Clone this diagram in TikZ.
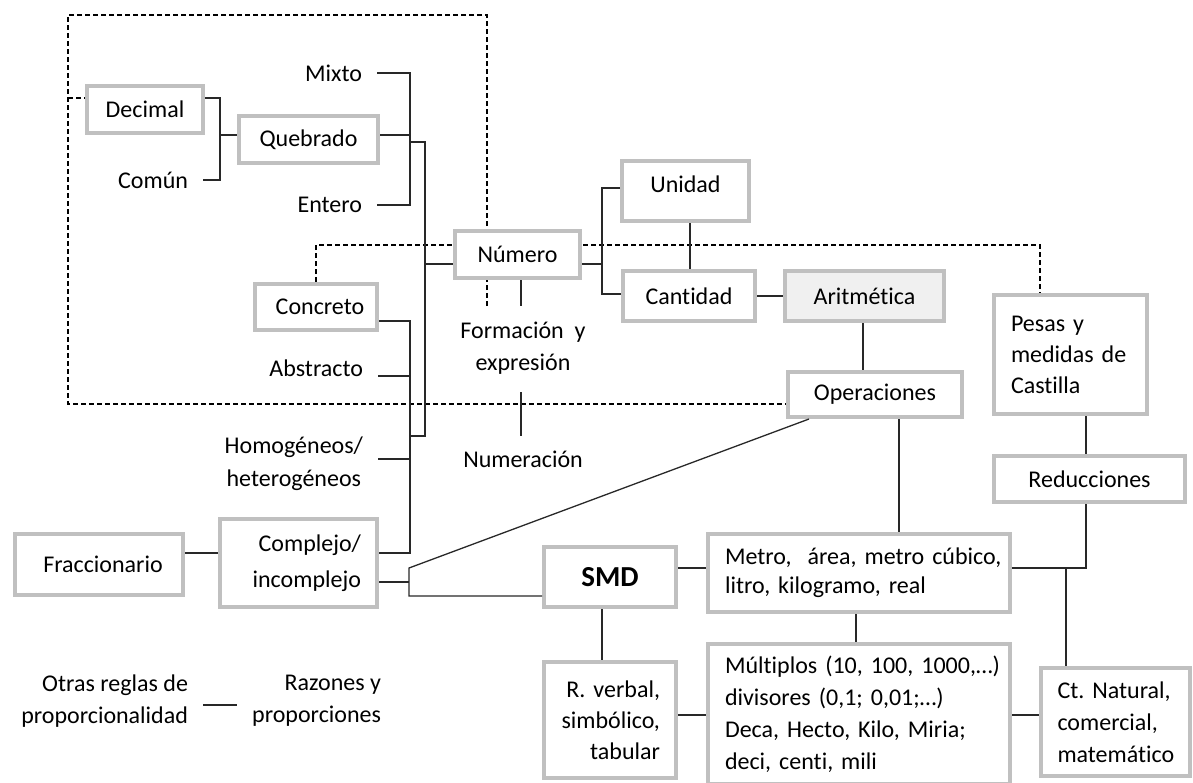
\documentclass[tikz,border=0pt]{standalone}
\usepackage{fontspec}
\setmainfont{Carlito}[Ligatures=NoCommon]
\frenchspacing
\definecolor{boxgray}{RGB}{192,192,192}
\definecolor{linkgray}{RGB}{40,40,40}
\definecolor{aritfill}{RGB}{240,240,240}
\newcommand\dgtxt{\fontsize{24}{31}\selectfont}
\begin{document}
\begin{tikzpicture}[x=1pt,y=-1pt,
  box/.style={draw=boxgray, line width=4pt, fill=white, inner sep=0pt, font=\dgtxt},
  lbl/.style={inner sep=0pt, outer xsep=15pt, font=\dgtxt},
  link/.style={draw=linkgray, line width=1.3pt},
  dashlink/.style={draw=black, line width=1.1pt, dash pattern=on 5pt off 3pt}]
\useasboundingbox (0,0) rectangle (1193,782);
\clip (0,0) rectangle (1193,782);

% junction points of the brackets
\coordinate (dTL) at (68,15);
\coordinate (dTR) at (487,15);
\coordinate (dBL) at (68,404);
\coordinate (dN)  at (487,306);
\coordinate (dDec) at (68,98);
\coordinate (dY)  at (316,245);
\coordinate (dP)  at (1040,245);

\coordinate (cA1) at (220,98);
\coordinate (cA2) at (220,180);
\coordinate (cA3) at (220,135);
\coordinate (cB1) at (410,73);
\coordinate (cB2) at (410,205);
\coordinate (cB3) at (410,135);
\coordinate (cB4) at (410,142);
\coordinate (cB5) at (425,142);
\coordinate (cB6) at (425,436);
\coordinate (cB7) at (410,436);
\coordinate (cB8) at (425,264);
\coordinate (cC1) at (410,321);
\coordinate (cC2) at (410,553);
\coordinate (cC3) at (410,376);
\coordinate (cC4) at (410,459);
\coordinate (cD1) at (409,568);
\coordinate (cD2) at (409,596);
\coordinate (cD3) at (409,582);
\coordinate (cF)  at (200,553);
\coordinate (cOp) at (809,419);
\coordinate (cN1) at (602,264);
\coordinate (cN2) at (602,188);
\coordinate (cN3) at (602,294);
\coordinate (cU)  at (690,0);
\coordinate (cAr) at (863,0);
\coordinate (cO)  at (899,0);
\coordinate (cS)  at (0,568);
\coordinate (cS2) at (602,0);
\coordinate (cRv) at (0,715);
\coordinate (cM)  at (856,0);
\coordinate (cP)  at (1086,0);
\coordinate (cJ)  at (1086,568);
\coordinate (cK)  at (1066,568);
\coordinate (cR)  at (0,705);
\coordinate (fA)  at (521,306);
\coordinate (fB)  at (521,392);
\coordinate (fC)  at (521,436);

% dashed groupings (drawn first, boxes cover them)
\draw[dashlink] (dN) -- (dTR) -- (dTL) -- (dBL) -- (dBL -| 786,0);
\draw[dashlink] (316,282) -- (dY) -- (dP) -- (1040,293);
\draw[dashlink] (dDec) -- (85,98);

% boxes
\node[box, minimum width=116pt, minimum height=47pt] (decimal) at (145,109.5) {Decimal};
\node[box, minimum width=139pt, minimum height=47pt] (quebrado) at (308.5,139.5) {Quebrado};
\node[box, minimum width=125pt, minimum height=47pt] (numero) at (517.5,254.5) {Número};
\node[box, minimum width=127pt, minimum height=60pt, text depth=14pt] (unidad) at (685.5,191) {Unidad};
\node[box, minimum width=132pt, minimum height=50pt] (cantidad) at (689,296) {Cantidad};
\node[box, fill=aritfill, minimum width=159pt, minimum height=50pt] (aritmetica) at (864.5,296) {Aritmética};
\node[box, minimum width=174pt, minimum height=45pt] (operaciones) at (875,394.5) {Operaciones};
\node[box, minimum width=153pt, minimum height=119pt, align=left, text width=119pt] (pesas) at (1070.5,354.5) {\mbox{Pesas y}\\\mbox{medidas de}\\Castilla};
\node[box, minimum width=191pt, minimum height=46pt] (reducciones) at (1089.5,479) {Reducciones};
\node[box, minimum width=122pt, minimum height=46pt] (concreto) at (316,307) {\hspace*{8pt}Concreto};
\node[box, minimum width=168pt, minimum height=61pt] (fraccionario) at (99,564.5) {\hspace*{8pt}Fraccionario};
\node[box, minimum width=157pt, minimum height=88pt, align=right, text width=125pt,
      font={\fontsize{24}{36}\selectfont}] (complejo) at (298.5,563) {Complejo/\\incomplejo};
\node[box, minimum width=132pt, minimum height=60pt, font={\fontsize{29}{31}\selectfont\bfseries}] (smd) at (610,577) {SMD};
\node[box, minimum width=132pt, minimum height=116pt, align=right, text width=100pt] (rverbal) at (610,720) {\mbox{R. verbal,}\\\mbox{simbólico,}\\tabular};
\node[box, minimum width=302pt, minimum height=78pt, align=left, text width=268pt,
      font={\fontsize{24}{29}\selectfont}] (metro) at (859,573) {\mbox{Metro,\ \ área, metro cúbico,}\\\mbox{litro, kilogramo, real}};
\node[box, minimum width=302pt, minimum height=140pt, align=left, text width=268pt,
      font={\fontsize{24}{32}\selectfont}] (multiplos) at (859,714) {\mbox{Múltiplos (10, 100, 1000,…)}\\\mbox{divisores (0,1; 0,01;…)}\\\mbox{Deca, Hecto, Kilo, Miria;}\\\mbox{deci, centi, mili}};
\node[box, minimum width=149pt, minimum height=108pt, align=left, text width=116pt,
      font={\fontsize{24}{32}\selectfont}] (ct) at (1115.5,722) {\mbox{Ct. Natural,}\\\mbox{comercial,}\\\mbox{matemático}};

% plain labels
\node[lbl, anchor=east] (mixto) at (377,73) {Mixto};
\node[lbl, anchor=east] (entero) at (377,205) {Entero};
\node[lbl, anchor=east] (comun) at (203,180) {Común};
\node[lbl, anchor=east] (abstracto) at (378,368) {Abstracto};
\node[lbl, anchor=east, align=center, font={\fontsize{24}{33}\selectfont}] (homog) at (378,463.5) {Homogéneos/\\heterogéneos};
\node[lbl, align=center, font={\fontsize{24}{32}\selectfont}] (formacion) at (523,348) {Formación\ \ y\\expresión};
\node[lbl] (numeracion) at (523,459) {Numeración};
\node[lbl, anchor=east, align=right, font={\fontsize{24}{32}\selectfont}] (otras) at (203,701) {Otras reglas de\\proporcionalidad};
\node[lbl, anchor=east, align=right, font={\fontsize{24}{32}\selectfont}] (razones) at (396,701) {Razones y\\proporciones};

% Decimal / Común -> Quebrado
\draw[link] (cA1 -| decimal.east) -- (cA1) -- (cA2) -- (comun.east);
\draw[link] (cA3) -- (cA3 -| quebrado.west);
% Mixto / Quebrado / Entero
\draw[link] (mixto.east) -- (cB1) -- (cB2) -- (entero.east);
\draw[link] (cB3 -| quebrado.east) -- (cB3);
\draw[link] (cB4) -- (cB5) -- (cB6) -- (cB7);
\draw[link] (cB8) -- (cB8 -| numero.west);
% Concreto / Abstracto / Homogéneos / Complejo
\draw[link] (cC1 -| concreto.east) -- (cC1) -- (cC2) -- (cC2 -| complejo.east);
\draw[link] (cC3 -| abstracto.east) -- (cC3);
\draw[link] (cC4 -| homog.east) -- (cC4);
% Complejo -> SMD and Operaciones
\draw[link] (cD3 -| complejo.east) -- (cD3);
\draw[link] (cOp |- operaciones.south) -- (cD1) -- (cD2) -- (cD2 -| smd.west);
\draw[link] (cF -| fraccionario.east) -- (cF -| complejo.west);
% Número -> Unidad / Cantidad
\draw[link] (cN1 -| numero.east) -- (cN1);
\draw[link] (cN2 -| unidad.west) -- (cN2) -- (cN3) -- (cN3 -| cantidad.west);
\draw[link] (unidad.south -| cU) -- (cantidad.north -| cU);
\draw[link] (cantidad.east) -- (aritmetica.west);
\draw[link] (aritmetica.south -| cAr) -- (operaciones.north -| cAr);
% Número -> Formación -> Numeración
\draw[link] (numero.south -| fA) -- (fA);
\draw[link] (fB) -- (fC);
% lower part
\draw[link] (operaciones.south -| cO) -- (metro.north -| cO);
\draw[link] (smd.east |- cS) -- (metro.west |- cS);
\draw[link] (smd.south -| cS2) -- (rverbal.north -| cS2);
\draw[link] (rverbal.east |- cRv) -- (multiplos.west |- cRv);
\draw[link] (metro.south -| cM) -- (multiplos.north -| cM);
\draw[link] (multiplos.east |- cRv) -- (ct.west |- cRv);
\draw[link] (pesas.south -| cP) -- (reducciones.north -| cP);
\draw[link] (reducciones.south -| cP) -- (cJ) -- (cJ -| metro.east);
\draw[link] (cK) -- (ct.north -| cK);
\draw[link] (otras.east |- cR) -- (razones.west |- cR);
\end{tikzpicture}
\end{document}
